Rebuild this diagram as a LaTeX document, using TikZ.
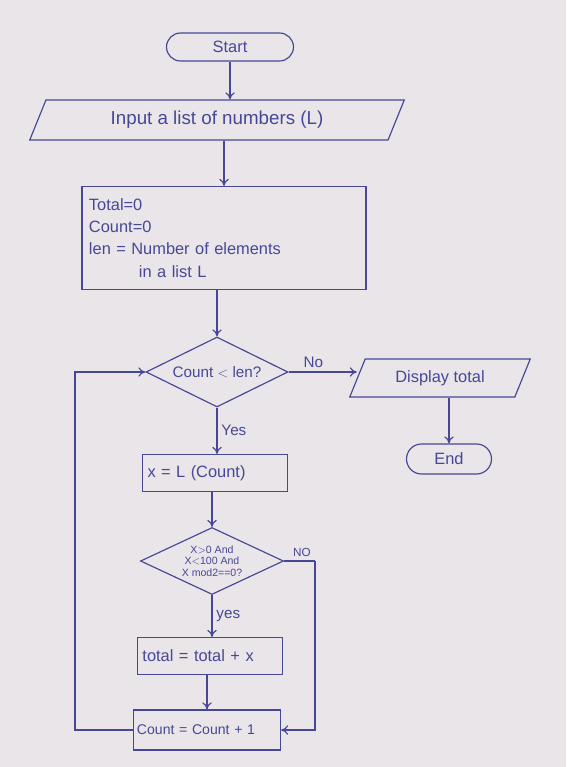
\documentclass[tikz,border=0pt]{standalone}
\usepackage{fontspec}
\setmainfont{Liberation Sans}
\usetikzlibrary{shapes.geometric,shapes.misc,arrows.meta}
\definecolor{ink}{RGB}{70,72,150}
\definecolor{paper}{RGB}{234,229,233}
\begin{document}
\begin{tikzpicture}[x=0.03cm,y=-0.03cm,
  every node/.style={text=ink,font=\fontsize{14}{19}\selectfont},
  base/.style={draw=ink,line width=1pt,inner sep=3pt},
  term/.style={base,rounded rectangle},
  io/.style={base,trapezium,trapezium stretches=true},
  proc/.style={base,rectangle},
  dec/.style={base,diamond,inner sep=0pt,aspect=2},
  lbl/.style={font=\fontsize{13}{15}\selectfont},
  conn/.style={draw=ink,line width=1pt,-{To[length=6pt,width=8pt]}},
  plain/.style={draw=ink,line width=1pt}]
\fill[paper] (0,0) rectangle (566,767);
\useasboundingbox (0,0) rectangle (566,767);

\node[term,minimum width=4.02cm,minimum height=0.84cm] (start) at (230,47) {Start};
\node[io,trapezium left angle=67,trapezium right angle=113,
  minimum width=11.25cm,minimum height=1.2cm,font=\fontsize{16}{19}\selectfont,xshift=-0.6cm] (input) at (237,120) {Input a list of numbers (L)};
\node[proc,minimum width=8.52cm,minimum height=3.09cm,text width=8.1cm,align=left]
  (init) at (224,238) {Total=0\\Count=0\\len = Number of elements\\\hspace*{1.5cm}in a list L};
\node[dec,minimum width=4.26cm,minimum height=2.1cm,font=\fontsize{13}{15}\selectfont] (d1) at (217,372) {Count $<$ len?};
\node[io,trapezium left angle=66,trapezium right angle=114,
  minimum width=5.46cm,minimum height=1.14cm] (disp) at (440,378) {Display total};
\node[term,minimum width=2.76cm,minimum height=0.9cm] (end) at (449,459) {End};
\node[proc,minimum width=4.35cm,minimum height=1.11cm,text width=4.05cm,align=left]
  (xl) at (215,473) {x = L (Count)};
\node[dec,minimum width=4.29cm,minimum height=2.01cm,align=center,
  font=\fontsize{9}{10}\selectfont] (d2) at (212,561) {X$>$0 And\\X$<$100 And\\X mod2==0?};
\node[proc,minimum width=4.35cm,minimum height=1.11cm,text width=4.05cm,align=left]
  (tot) at (210,656) {total = total + x};
\node[proc,minimum width=4.41cm,minimum height=1.2cm,text width=4.2cm,align=left,
  font=\fontsize{12}{14}\selectfont] (cnt) at (207,730) {Count = Count + 1};

\coordinate (nr) at (315,561);
\coordinate (ll) at (75,730);

\draw[conn] (start.south) -- (start.south |- input.north);
\draw[conn] (init.north |- input.south) -- (init.north);
\draw[conn] (d1.north |- init.south) -- (d1.north);
\draw[conn] (d1.east) -- (d1.east -| disp.west) node[lbl,midway,above,xshift=-8pt] (no1) {No};
\draw[conn] (end.north |- disp.south) -- (end.north);
\draw[conn] (d1.south) -- (d1.south |- xl.north) node[lbl,midway,right] (yes1) {Yes};
\draw[conn] (d2.north |- xl.south) -- (d2.north);
\draw[conn] (d2.south) -- (d2.south |- tot.north) node[lbl,midway,right] (yes2) {yes};
\draw[conn] (cnt.north |- tot.south) -- (cnt.north);
\draw[plain] (d2.east) -- (nr) node[lbl,midway,above,xshift=2pt,font=\fontsize{10}{12}\selectfont] (no2) {NO};
\draw[conn] (nr) |- (cnt.east);
\draw[conn] (cnt.west) -- (ll) |- (d1.west);
\end{tikzpicture}
\end{document}
